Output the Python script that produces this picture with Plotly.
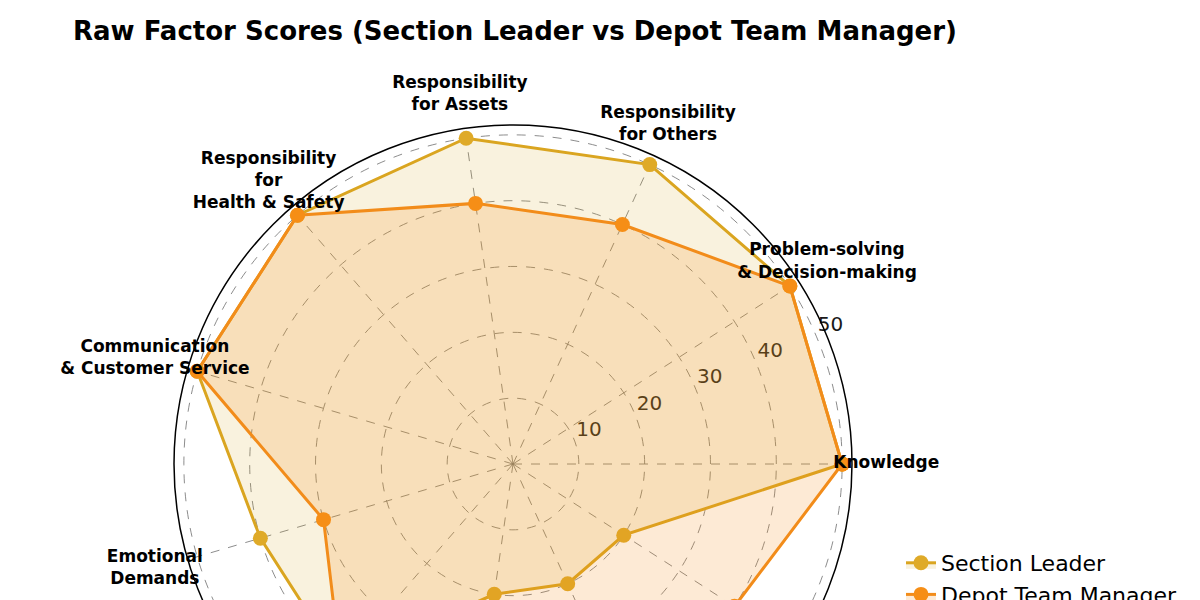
import plotly.graph_objects as go

# factors, counterclockwise from the right (the lower four are off the visible page)
categories = [
    "Knowledge",
    "Problem-solving<br>& Decision-making",
    "Responsibility<br>for Others",
    "Responsibility<br>for Assets",
    "Responsibility<br>for<br>Health & Safety",
    "Communication<br>& Customer Service",
    "Emotional<br>Demands",
    "Mental<br>Demands",
    "Physical<br>Demands",
    "Working<br>Conditions",
    "Initiative<br>& Independence",
]

section_leader = [50, 50, 50, 50, 50, 50, 40, 40, 20, 20, 20]
depot_team_manager = [50, 50, 40, 40, 50, 50, 30, 40, 40, 40, 40]

radial_ticks = [10, 20, 30, 40, 50]
r_max = 51.5
label_r = 56.7      # where the factor names sit, in score units
tick_angle = 23.5   # radial tick labels run along this bearing
tick_shift = 2.6    # ...a little outside their ring

H = 880  # taller than the window, so the bottom of the radar runs off the page
cx, cy = 505, 456        # centre of the radar in figure pixels
R1, R2 = 339, 420        # radius of the data polar and of the text overlays


def closed(vals):
    # repeat the first point so the outline closes
    return vals + [vals[0]]


def dom(R):
    return dict(x=[(cx - R) / 1200, (cx + R) / 1200],
                y=[1 - (cy + R) / H, 1 - (cy - R) / H])


fig = go.Figure()

# radial tick numbers, on the bottom subplot so the fills tint them
fig.add_trace(go.Scatterpolar(
    r=[t + tick_shift for t in radial_ticks],
    theta=[tick_angle] * len(radial_ticks),
    subplot="polar",
    mode="text",
    text=[str(t) for t in radial_ticks],
    textfont=dict(family="DejaVu Sans", size=20, color="#1a1a1a"),
    textposition="middle center",
    showlegend=False,
    hoverinfo="skip",
))

fig.add_trace(go.Scatterpolar(
    r=closed(section_leader),
    theta=closed(categories),
    subplot="polar2",
    name="Section Leader",
    mode="lines+markers",
    fill="toself",
    fillcolor="rgba(218,165,32,0.15)",
    line=dict(color="#DAA520", width=3),
    marker=dict(color="#DFAA28", size=15),
))

fig.add_trace(go.Scatterpolar(
    r=closed(depot_team_manager),
    theta=closed(categories),
    subplot="polar2",
    name="Depot Team Manager",
    mode="lines+markers",
    fill="toself",
    fillcolor="rgba(245,140,20,0.18)",
    line=dict(color="#F28C1A", width=3),
    marker=dict(color="#F68E16", size=15),
))

# factor names, centred on their spokes
fig.add_trace(go.Scatterpolar(
    r=[label_r] * len(categories),
    theta=categories,
    subplot="polar3",
    mode="text",
    text=categories,
    textfont=dict(family="DejaVu Sans", size=17, color="black", weight="bold"),
    textposition="middle center",
    showlegend=False,
    hoverinfo="skip",
))

grid = dict(gridcolor="rgba(120,120,120,0.85)", griddash="dash", gridwidth=1)

fig.update_layout(
    width=1200,
    height=H,
    margin=dict(l=0, r=0, t=0, b=0),
    paper_bgcolor="white",
    font=dict(family="DejaVu Sans", color="black"),
    title=dict(
        text="<b>Raw Factor Scores (Section Leader vs Depot Team Manager)</b>",
        font=dict(size=26, color="black"),
        x=65 / 1200, xanchor="left",
        y=1 - 23 / H, yanchor="middle",
    ),
    polar=dict(
        domain=dom(R2),
        bgcolor="white",
        radialaxis=dict(range=[0, r_max * R2 / R1], visible=False),
        angularaxis=dict(
            type="linear", thetaunit="degrees",
            direction="counterclockwise", rotation=0, visible=False,
        ),
    ),
    polar2=dict(
        domain=dom(R1),
        bgcolor="rgba(0,0,0,0)",
        radialaxis=dict(
            range=[0, r_max],
            tickvals=radial_ticks,
            showticklabels=False,
            showline=False,
            ticks="",
            layer="below traces",
            **grid,
        ),
        angularaxis=dict(
            direction="counterclockwise",
            rotation=0,
            type="category",
            categoryarray=categories,
            showticklabels=False,
            ticks="",
            showline=True,
            linecolor="black",
            linewidth=1.5,
            layer="below traces",
            **grid,
        ),
    ),
    polar3=dict(
        domain=dom(R2),
        bgcolor="rgba(0,0,0,0)",
        radialaxis=dict(range=[0, r_max * R2 / R1], visible=False),
        angularaxis=dict(
            direction="counterclockwise",
            rotation=0,
            type="category",
            categoryarray=categories,
            visible=False,
        ),
    ),
    legend=dict(
        x=893 / 1200, xanchor="left",
        y=1 - 534 / H, yanchor="top",
        font=dict(size=22),
        bgcolor="rgba(0,0,0,0)",
    ),
)

fig.write_html("out.html")
